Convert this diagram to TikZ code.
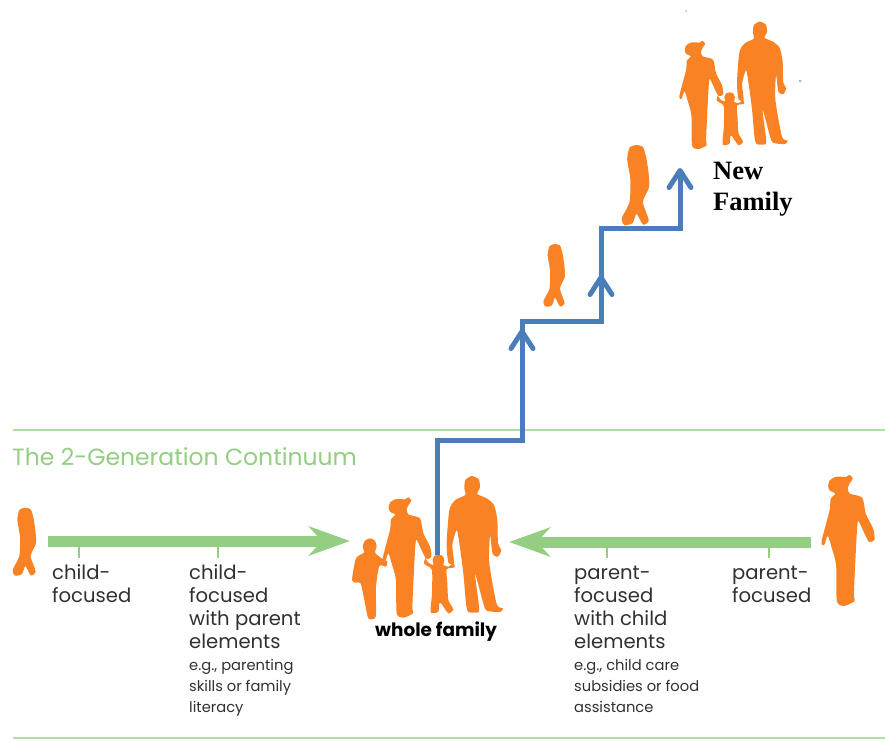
\documentclass[tikz,border=0pt]{standalone}
\usepackage{fontspec}
\usepackage{tkz-euclide}
\usetikzlibrary{arrows.meta}
\setmainfont{Poppins}
\newfontfamily\familyserif{Liberation Serif}
\definecolor{figorange}{HTML}{F98324}
\definecolor{bandgreen}{HTML}{93CE83}
\definecolor{railgreen}{HTML}{B2DEA5}
\definecolor{stairblue}{HTML}{4A7EBB}
\definecolor{labelgray}{HTML}{303030}
\newcommand{\smalltext}[1]{{\fontsize{14.7}{21}\selectfont #1}}
\tikzset{
  figure/.style={fill=figorange, draw=none},
  bigarrow/.style={color=bandgreen, line width=11pt, line cap=butt,
    -{Stealth[length=41pt, width=29pt, inset=13pt]}},
  tick/.style={color=bandgreen, line width=2.5pt, line cap=butt},
  rail/.style={color=railgreen, line width=2pt, line cap=butt},
  stairline/.style={color=stairblue, line width=5pt, line cap=butt},
  stairtip/.style={color=stairblue, line width=5pt, line cap=butt,
    -{Straight Barb[length=17pt, width=22pt, line width=5pt, round]}},
  lbl/.style={anchor=north west, inner sep=0pt, align=left, text=labelgray,
    font=\fontsize{19.6}{23}\selectfont},
  father/.pic={\fill[figure] plot[smooth cycle, tension=0.4] coordinates {
    (376,150) (395,138) (416,148) (420,172) (412,192) (440,205) (462,225) (472,270)
    (474,340) (484,360) (474,380) (458,372) (450,315) (448,400) (470,522) (489,535)
    (480,546) (440,542) (430,520) (405,430) (416,520) (416,546) (385,546) (378,520)
    (370,430) (358,340) (350,300) (337,345) (342,400) (325,397) (320,340) (328,240)
    (346,210) (376,195) (373,175)};},
  mother/.pic={\fill[figure] plot[smooth cycle, tension=0.4] coordinates {
    (146,232) (150,218) (165,208) (182,207) (195,208) (205,202) (214,212) (205,226)
    (200,240) (206,254) (240,265) (250,310) (270,350) (274,380) (258,386) (240,350)
    (228,330) (223,400) (217,530) (219,550) (190,563) (170,550) (168,450) (155,400)
    (145,370) (135,396) (128,385) (150,300) (153,268) (166,254) (150,245)};},
  toddler/.pic={\fill[figure] plot[smooth cycle, tension=0.4] coordinates {
    (278,390) (283,378) (295,374) (308,378) (313,392) (310,405) (325,410) (340,400)
    (344,412) (320,418) (322,460) (325,510) (340,538) (325,550) (305,522) (298,520)
    (295,545) (272,547) (276,490) (276,420) (262,408) (252,400) (256,385) (265,398)
    (280,405)};},
  kid/.pic={\fill[figure] plot[smooth cycle, tension=0.4] coordinates {
    (68,350) (75,332) (90,325) (105,332) (110,350) (105,368) (125,385) (142,395)
    (138,410) (118,408) (108,470) (107,560) (85,565) (75,520) (62,460) (48,458)
    (36,450) (48,385) (72,368)};},
  walker/.pic={\fill[figure] plot[smooth cycle, tension=0.4] coordinates {
    (75,233) (92,238) (100,262) (106,300) (108,340) (92,378) (107,425) (92,436) (76,408)
    (66,432) (45,437) (38,420) (58,378) (60,320) (52,270) (58,240)};}
}

\begin{document}
\begin{tikzpicture}[x=1pt, y=-1pt]
  \useasboundingbox (0,0) rectangle (885,740);

  \tkzDefPoints{13/430/R, 885/430/S, 13/738/T, 885/738/U,
    48/541/a, 350/541/b, 811/542/c, 509/542/d,
    79/541/e, 79/558/f, 218/541/g, 218/558/h, 607/542/i, 607/558/j, 769/542/k, 769/558/l,
    437/555/A, 437/440/B, 522/440/C, 522/321/D, 601/321/E, 601/228/F, 680/228/G,
    522/350/m, 522/329/n, 601/297/o, 601/275/p, 680/192/q, 680/168/r}

  \tkzDrawSegments[rail](R,S T,U)
  \tkzDrawSegments[bigarrow](a,b c,d)
  \tkzDrawSegments[tick](e,f g,h i,j k,l)

  \foreach \who in {father, mother, toddler}{
    \pic at (340,430) [scale=1/3] {\who};
    \pic at (641,-19.8) [scale=0.3] {\who};
  }
  \pic at (340,430) [scale=1/3] {kid};
  \pic at (0,430) [scale=1/3] {walker};
  \pic at (531.7,172.5) [scale=0.307] {walker};
  \pic at (606.8,53.7) [scale=0.392] {walker};
  \pic at (775.1,401.5) [scale=0.363] {mother};

  \draw[stairline, line join=miter] (A) -- (B) -- (C) -- (D) -- (E) -- (F) -- (G) -- (q);
  \foreach \from/\to in {m/n, o/p, q/r}
    \draw[stairtip] (\from) -- (\to);

  \node[lbl, text=bandgreen, font=\fontsize{23.5}{26}\selectfont] (title) at (12,447) {The 2-Generation Continuum};
  \node[lbl] (childonly) at (52,564) {child-\\focused};
  \node[lbl] (childplus) at (189,564) {child-\\focused\\with parent\\elements\\[-1pt]
    \smalltext{e.g., parenting}\\[-2pt]
    \smalltext{skills or family}\\[-2pt]
    \smalltext{literacy}};
  \node[lbl] (parentplus) at (574,566) {parent-\\focused\\with child\\elements\\[-1pt]
    \smalltext{e.g., child care}\\[-2pt]
    \smalltext{subsidies or food}\\[-2pt]
    \smalltext{assistance}};
  \node[lbl] (parentonly) at (732,566) {parent-\\focused};
  \node[lbl, text=black, font=\fontsize{18.4}{20}\selectfont\bfseries] (whole) at (375,622) {whole family};
  \node[lbl, text=black, font=\familyserif\fontsize{26.5}{31}\selectfont\bfseries] (newfamily) at (713,162) {New\\Family};

  \fill[bandgreen] (800,81) circle (1.5);
  \fill[bandgreen] (686,11) circle (1);
\end{tikzpicture}
\end{document}
